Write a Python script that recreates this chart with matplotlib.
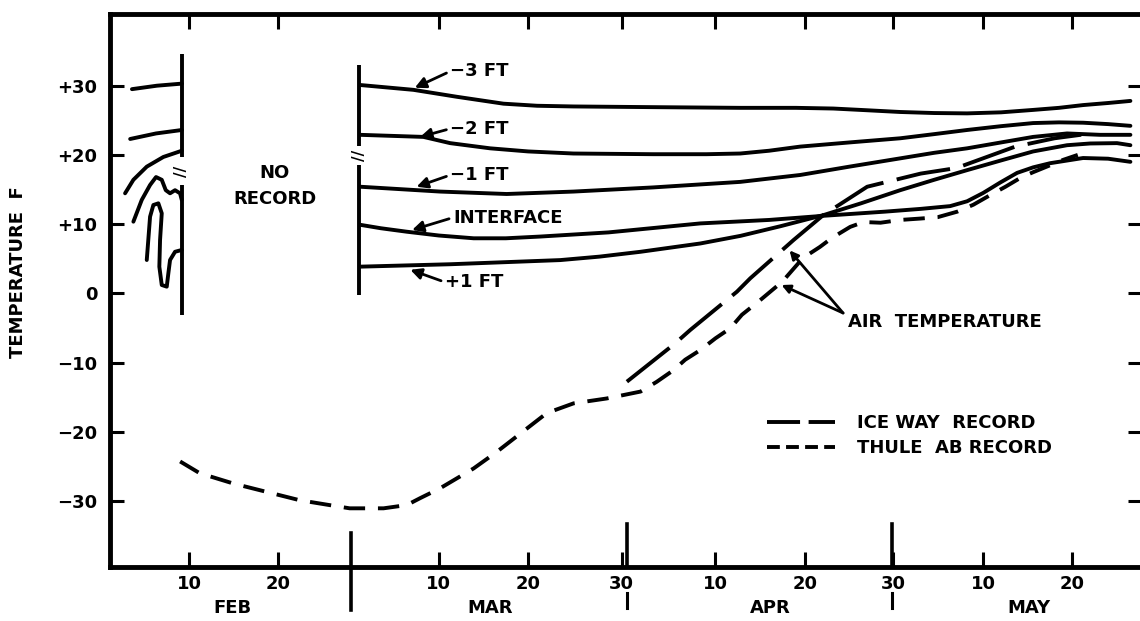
import matplotlib
matplotlib.use("Agg")
import matplotlib.pyplot as plt
from matplotlib.lines import Line2D

# x values are day numbers counted from 1 Feb (Mar 1 ~ day 29)
tick_days = [10, 20, 38, 48, 58.5, 69, 79, 88.9, 99, 109]
tick_names = ["10", "20", "10", "20", "30", "10", "20", "30", "10", "20"]
month_names = ["FEB", "MAR", "APR", "MAY"]
month_mid = [14.9, 43.7, 75.1, 104.1]
month_edges = [28.2, 59.1, 88.8]
temp_ticks = [-30, -20, -10, 0, 10, 20, 30]
temp_names = ["\u221230", "\u221220", "\u221210", "0", "+10", "+20", "+30"]

# short february record (left piece)
feb_a_x = [3.6, 6.4, 9.2]
feb_a_y = [29.5, 30.0, 30.3]
feb_b_x = [3.4, 6.3, 9.2]
feb_b_y = [22.3, 23.1, 23.6]
feb_c_x = [2.83, 3.76, 5.26, 7.12, 9.18]
feb_c_y = [14.45, 16.4, 18.3, 19.7, 20.6]
feb_d_x = [3.76, 4.7, 5.63, 6.3, 6.94, 7.39, 7.87, 8.43, 8.99, 9.18]
feb_d_y = [10.35, 13.5, 15.65, 16.8, 16.4, 14.9, 14.45, 14.9, 14.45, 13.5]
feb_e_x = [5.26, 5.63, 6.0, 6.56, 6.94, 6.75, 6.67, 6.94, 7.5, 7.68, 7.87, 8.43, 9.18]
feb_e_y = [4.81, 11.07, 12.76, 13.0, 11.56, 7.7, 3.84, 1.2, 0.96, 2.89, 4.81, 6.0, 6.26]

# ice temperatures, march - may
m3_x = [29.17, 35.15, 40.0, 45.24, 49.0, 53.08, 62, 71.77, 78.0, 82.2, 86.0, 89.7, 93.5,
        97.2, 101.0, 104.6, 107.5, 110.2, 113.0, 115.5]
m3_y = [30.1, 29.4, 28.4, 27.4, 27.1, 27.0, 26.9, 26.8, 26.8, 26.7, 26.45, 26.2, 26.05,
        26.0, 26.15, 26.5, 26.8, 27.2, 27.5, 27.8]
m2_x = [29.17, 36.27, 39.26, 43.74, 48.0, 53.08, 62, 68.0, 71.77, 75.0, 78.5, 84.0, 89.7,
        93.5, 97.2, 101.0, 104.6, 107.5, 110.2, 113.0, 115.5]
m2_y = [22.9, 22.6, 21.7, 20.95, 20.5, 20.2, 20.1, 20.1, 20.2, 20.6, 21.2, 21.8, 22.4,
        23.0, 23.6, 24.15, 24.6, 24.7, 24.65, 24.45, 24.2]
m1_x = [29.17, 38.14, 45.6, 53.08, 62, 71.77, 78.5, 84.0, 89.7, 93.5, 97.2, 101.0, 104.6,
        108.4, 112.1, 115.5]
m1_y = [15.4, 14.7, 14.35, 14.7, 15.3, 16.1, 17.1, 18.3, 19.5, 20.3, 20.95, 21.8, 22.6,
        23.1, 22.9, 22.9]
int_x = [29.17, 31.5, 34.4, 38.0, 41.9, 45.5, 49.35, 57, 67.3, 75, 81.1, 88, 92, 95.3,
         97.2, 99.0, 100.9, 102.8, 104.6, 106.5, 110.2, 113.0, 115.5]
int_y = [9.9, 9.4, 8.9, 8.35, 7.95, 7.95, 8.2, 8.8, 10.1, 10.6, 11.2, 11.8, 12.2, 12.6,
         13.3, 14.5, 16.0, 17.4, 18.2, 18.8, 19.55, 19.45, 19.0]
p1_x = [29.17, 39.3, 51.6, 56.0, 60.6, 67.3, 71.8, 76.3, 81.1, 85.3, 89.7, 93.5, 97.2,
        101.0, 104.6, 108.4, 111.0, 114.0, 115.5]
p1_y = [3.85, 4.2, 4.8, 5.3, 6.0, 7.2, 8.3, 9.7, 11.3, 13.0, 14.9, 16.4, 17.8, 19.2,
        20.5, 21.4, 21.65, 21.7, 21.4]

# air temperature records
iceway_x = [59.07, 64.48, 66.17, 71.4, 72.9, 77.75, 81.08, 86.0, 92.0, 96.0, 102.6, 107.0, 110.5]
iceway_y = [-12.77, -7.23, -5.3, 0.23, 2.17, 7.7, 11.3, 15.4, 17.3, 18.1, 21.2, 22.4, 23.0]
thule_x = [9.0, 11.2, 15.0, 18.7, 22.4, 26.2, 28.0, 31.8, 34.4, 35.9, 38.1, 41.9, 44.5, 47.9,
           50.1, 53.1, 56.8, 60.6, 62.4, 64.3, 65.6, 67.3, 69.0, 70.65, 71.96, 74.0, 76.5,
           78.8, 80.7, 82.05, 84.1, 85.6, 87.5, 89.7, 91.95, 93.9, 96.1, 97.9, 99.8, 101.5,
           103.2, 104.6, 106.5, 108.0, 109.6]
thule_y = [-24.3, -26.0, -27.5, -28.7, -29.9, -30.7, -31.07, -31.07, -30.6, -29.6, -28.2, -25.3,
           -22.9, -19.5, -17.3, -15.9, -15.2, -14.2, -12.8, -11.1, -9.6, -8.2, -6.5, -5.06, -3.1,
           -1.0, 1.7, 5.1, 6.7, 8.0, 9.6, 10.3, 10.2, 10.6, 10.8, 11.0, 11.8, 12.8, 14.2, 15.4,
           16.7, 17.5, 18.5, 19.3, 20.0]

# edges of the record pieces (vertical lines, with a break)
edge_x = [9.2, 29.1]
edge_top = [34.6, 33.0]
edge_gap_hi = [19.7, 21.3]
edge_gap_lo = [15.65, 18.5]
edge_bottom = [-3.1, -0.3]

depth_names = ["\u22123 FT", "\u22122 FT", "\u22121 FT", "INTERFACE", "+1 FT"]
depth_tips = [(35.3, 29.7), (35.9, 22.6), (35.5, 15.4), (35.0, 9.15), (34.8, 3.4)]
depth_text = [(39.3, 32.1), (39.3, 23.8), (39.3, 17.1), (39.6, 10.95), (38.7, 1.6)]

air_tips = [(77.3, 6.2), (76.4, 1.2)]
air_from = (83.3, -2.85)
air_text = (83.9, -4.1)
no_record_at = (19.6, 15.5)


def plot_chart():
    plt.rcParams['font.family'] = ['DejaVu Sans']
    plt.rcParams['font.weight'] = 'bold'
    plt.rcParams['axes.labelweight'] = 'bold'
    fs = 13
    lw = 2.8

    fig = plt.figure(figsize=(11.4, 6.21), dpi=100)
    ax = fig.add_axes([110 / 1140, 54 / 621, 1032 / 1140, 553 / 621])
    ax.set_xlim(1.14, 116.8)
    ax.set_ylim(-39.55, 40.36)

    feb = [(feb_a_x, feb_a_y), (feb_b_x, feb_b_y), (feb_c_x, feb_c_y),
           (feb_d_x, feb_d_y), (feb_e_x, feb_e_y)]
    for xs, ys in feb:
        ax.plot(xs, ys, color='black', lw=lw, solid_capstyle='round', solid_joinstyle='round')

    depth = [(m3_x, m3_y), (m2_x, m2_y), (m1_x, m1_y), (int_x, int_y), (p1_x, p1_y)]
    for xs, ys in depth:
        ax.plot(xs, ys, color='black', lw=lw, solid_capstyle='round', solid_joinstyle='round')

    ax.plot(thule_x, thule_y, color='black', lw=lw, dashes=(5.5, 3.3))
    ax.plot(iceway_x, iceway_y, color='black', lw=lw, dashes=(14, 3.5))

    # record edges with break marks
    ax.vlines(edge_x, edge_gap_hi, edge_top, color='black', lw=lw)
    ax.vlines(edge_x, edge_bottom, edge_gap_lo, color='black', lw=lw)
    for x, hi, lo in zip(edge_x, edge_gap_hi, edge_gap_lo):
        ax.text(x, (hi + lo) / 2, "//", rotation=90, ha='center', va='center', fontsize=11)

    ax.text(no_record_at[0], no_record_at[1], "NO\nRECORD", ha='center', va='center',
            fontsize=fs, linespacing=1.55)

    arrow = dict(arrowstyle='-|>,head_length=0.5,head_width=0.25', color='black', lw=2,
                 shrinkA=1, shrinkB=0, relpos=(0, 0.5))
    for name, tip, pos in zip(depth_names, depth_tips, depth_text):
        ax.annotate(name, xy=tip, xytext=pos, ha='left', va='center', fontsize=fs,
                    arrowprops=arrow)

    for tip in air_tips:
        ax.annotate("", xy=tip, xytext=air_from, arrowprops=dict(arrow, shrinkA=0))
    ax.text(air_text[0], air_text[1], "AIR  TEMPERATURE", ha='left', va='center', fontsize=fs)

    handles = [Line2D([], [], color='black', lw=lw, dashes=(8.5, 2.2)),
               Line2D([], [], color='black', lw=lw, dashes=(3.3, 1.6))]
    ax.legend(handles, ["ICE WAY  RECORD", "THULE  AB RECORD"], loc='upper left',
              bbox_to_anchor=(0.6366, 0.2767), frameon=False, fontsize=fs,
              handlelength=3.77, handletextpad=1.2, labelspacing=0.4,
              borderpad=0, borderaxespad=0)

    # axes frame and ticks
    for s in ax.spines.values():
        s.set_linewidth(3.5)
    ax.set_xticks(tick_days)
    ax.set_xticklabels(tick_names)
    ax.set_yticks(temp_ticks)
    ax.set_yticklabels(temp_names)
    ax.tick_params(axis='x', direction='in', top=True, length=11, width=2.2,
                   labelsize=fs, pad=6)
    ax.tick_params(axis='y', direction='in', right=True, length=10, width=2.2,
                   labelsize=fs, pad=9)

    tr = ax.get_xaxis_transform()
    for i, x in enumerate(month_edges):
        if i == 0:
            ax.plot([x, x], [-0.078, 0.0615], color='black', lw=2.6, transform=tr, clip_on=False)
        else:
            ax.plot([x, x], [0, 0.078], color='black', lw=2.6, transform=tr, clip_on=False)
            ax.plot([x, x], [-0.047, -0.075], color='black', lw=2.2, transform=tr, clip_on=False)
    for name, x in zip(month_names, month_mid):
        ax.text(x, -0.074, name, transform=tr, ha='center', va='center', fontsize=fs)

    ax.set_ylabel("TEMPERATURE  F", fontsize=fs, fontweight='bold')
    ax.yaxis.set_label_coords(-0.08, 0.533)

    plt.savefig("out.png", dpi=100)
    plt.close()


def main():
    plot_chart()


if __name__ == "__main__":
    main()
